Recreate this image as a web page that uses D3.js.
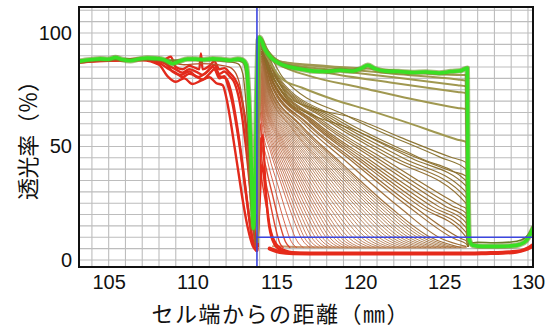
<!DOCTYPE html>
<html><head><meta charset="utf-8">
<script src="https://cdn.jsdelivr.net/npm/d3@7"></script>
<style>
body{margin:0;background:#fff}
svg{display:block}
</style>
</head><body>
<svg id="chart" width="553" height="333"></svg>
<script>
// ---- axis labels and reference marks ----
const xTicks = [105, 110, 115, 120, 125, 130];
const yTicks = [0, 50, 100];
const xTitle = "セル端からの距離（㎜）";
const yTitle = "透光率（％）";
const meniscusX = 113.84;      // position of the vertical guide (mm)
const thresholdLevel = 10;     // level of the horizontal guide (%)

// ---- transmission profiles, [position mm, transmission %] ----
// earliest profiles left of the meniscus (red band)
const leftRedProfiles = [
  [[103.23,87],[104,87.5],[105,88],[106,88],[107,88.5],[107.6,88],[108.2,86],[108.6,84],[109,82.5],[109.4,80.5],[109.8,82],[110.2,81],[110.6,79.5],[111,82],[111.3,84],[111.6,80],[111.9,81],[112.1,77],[112.35,70],[112.6,60],[112.85,48],[113.1,34],[113.35,20],[113.6,8],[113.8,4.5]],
  [[103.23,87.5],[104,88],[105,88.2],[106,88.3],[107,88.6],[107.6,88.4],[108.2,87],[108.6,85.5],[109,84],[109.4,82.5],[109.8,84],[110.2,83],[110.6,81.5],[111,84],[111.3,86],[111.6,82],[111.9,83],[112.2,81],[112.5,78],[112.8,70],[113.05,58],[113.3,42],[113.5,26],[113.7,10],[113.85,4.5]],
  [[103.23,87.5],[104,88],[105,88.4],[106,88.4],[107,88.8],[107.6,88.6],[108.2,88],[108.7,89.5],[109,85],[109.4,84],[109.8,85.5],[110.2,84.5],[110.4,84],[110.5,91],[110.6,84],[111,85.5],[111.3,87.5],[111.6,84],[111.9,84.5],[112.2,82.5],[112.5,80],[112.8,75],[113.1,64],[113.35,48],[113.55,30],[113.72,12],[113.85,5]],
  [[103.23,87.5],[105,88.2],[107,88.6],[108.3,87.5],[108.8,83],[109.3,81.5],[109.8,83],[110.3,80.5],[110.8,82.5],[111.2,85],[111.6,81],[112.0,80],[112.3,74],[112.55,64],[112.8,52],[113.05,38],[113.3,23],[113.55,10],[113.78,4.5]],
  [[103.23,87],[105,87.8],[107,88],[108.0,86],[108.5,81],[109.0,78.5],[109.5,80],[110.0,77.5],[110.5,79],[111.0,80.5],[111.4,78],[111.8,77],[112.0,72],[112.25,62],[112.5,50],[112.75,38],[113.0,26],[113.3,14],[113.6,6],[113.8,4]]
];
// intermediate profiles left of the meniscus
const leftTransitionProfiles = [
  [[103.23,87.5],[105,88],[107,88.5],[108.5,87.5],[109.5,86],[110.5,86.5],[111.5,86],[112.2,85],[112.6,82],[112.9,74],[113.15,58],[113.35,38],[113.55,18],[113.75,6]],
  [[103.23,88],[106,88.5],[108.5,88],[110.5,88],[112,87.5],[112.7,86.5],[113.0,82],[113.2,68],[113.4,45],[113.58,20],[113.75,8]],
  [[103.23,88],[106,88.5],[108.5,88],[110.5,88],[112.5,88],[113.0,87],[113.25,78],[113.42,55],[113.58,25],[113.7,12],[113.8,20]]
];
// red spike just behind the meniscus
const spikeProfiles = [
  [[113.85,4],[113.95,20],[114.1,52],[114.2,55],[114.3,40],[114.45,22],[114.7,10],[115.1,5],[115.6,3.5]],
  [[113.85,4],[114.0,25],[114.15,42],[114.35,30],[114.6,15],[115.0,7],[115.6,4],[116.4,3]]
];
// clearing profiles whose front reaches the floor inside the cell
const earlyProfiles = [
  [[113.9,6],[114.05,45],[114.10,38.3],[114.24,30.3],[114.43,22.3],[114.67,12.7],[114.86,7],[115.0,5.5]],
  [[113.9,6],[114.05,54],[114.12,45.8],[114.32,36.2],[114.59,26.5],[114.93,14.7],[115.20,7.5],[115.40,5.5]],
  [[113.9,6],[114.05,60],[114.14,50.9],[114.40,40.1],[114.75,29.2],[115.19,16.1],[115.54,8],[115.80,5.5]],
  [[113.9,6],[114.05,65],[114.16,55.1],[114.48,43.3],[114.91,31.5],[115.45,17.3],[115.88,8.2],[116.20,5.5]],
  [[113.9,6],[114.05,69],[114.18,58.4],[114.56,45.9],[115.07,33.4],[115.71,18.2],[116.22,8.5],[116.60,5.5]],
  [[113.9,6],[114.05,72],[114.20,61.0],[114.64,47.9],[115.23,34.7],[115.97,18.9],[116.56,8.7],[117.00,5.5]]
];
const midProfiles = [
  [[113.9,6],[114.05,75],[114.22,63.5],[114.74,49.8],[115.43,36.1],[116.29,19.6],[116.98,8.8],[117.50,5.5]],
  [[113.9,6],[114.05,77],[114.25,65.2],[114.84,51.1],[115.63,37.0],[116.62,20.0],[117.41,9],[118.00,5.5]],
  [[113.9,6],[114.05,79],[114.27,66.8],[114.94,52.4],[115.83,38.0],[116.94,20.5],[117.83,9.1],[118.50,5.5]],
  [[113.9,6],[114.05,81],[114.30,68.5],[115.04,53.7],[116.03,38.9],[117.27,20.9],[118.26,9.2],[119.00,5.5]],
  [[113.9,6],[114.05,82],[114.32,69.4],[115.14,54.4],[116.23,39.3],[117.59,21.2],[118.68,9.3],[119.50,5.5]],
  [[113.9,6],[114.05,83],[114.35,70.2],[115.24,55.0],[116.43,39.8],[117.92,21.4],[119.11,9.4],[120.00,5.5]],
  [[113.9,6],[114.05,84],[114.38,71.0],[115.36,55.7],[116.67,40.3],[118.31,21.6],[119.62,9.5],[120.60,5.5]],
  [[113.9,6],[114.05,85],[114.41,71.9],[115.48,56.3],[116.91,40.7],[118.70,21.9],[120.13,9.5],[121.20,5.5]],
  [[113.9,6],[114.05,86],[114.44,72.7],[115.60,57.0],[117.15,41.2],[119.09,22.1],[120.64,9.6],[121.80,5.5]],
  [[113.9,6],[114.05,87],[114.47,73.6],[115.72,57.6],[117.39,41.6],[119.48,22.3],[121.15,9.7],[122.40,5.5]],
  [[113.9,6],[114.05,88],[114.50,74.4],[115.84,58.3],[117.63,42.1],[119.87,22.6],[121.66,9.8],[123.00,5.5]],
  [[113.9,6],[114.05,88],[114.53,74.4],[115.96,58.3],[117.87,42.1],[120.26,22.6],[122.17,9.8],[123.60,5.5]],
  [[113.9,6],[114.05,89],[114.56,75.2],[116.08,58.9],[118.11,42.6],[120.65,22.8],[122.68,9.8],[124.20,5.5]],
  [[113.9,6],[114.05,89],[114.59,75.2],[116.20,58.9],[118.35,42.6],[121.04,22.8],[123.19,9.8],[124.80,5.5]],
  [[113.9,6],[114.05,90],[114.62,76.1],[116.32,59.6],[118.59,43.0],[121.43,23.0],[123.70,9.9],[125.40,5.5]],
  [[113.9,6],[114.05,90],[114.65,76.1],[116.44,59.6],[118.83,43.0],[121.82,23.0],[124.21,9.9],[126.00,5.5]]
];
const midProfilesLate = [
  [[113.9,6],[114.05,73.5],[114.21,62.2],[114.69,48.8],[115.33,35.4],[116.13,19.2],[116.77,8.7],[117.25,5.5]],
  [[113.9,6],[114.05,76],[114.24,64.3],[114.79,50.5],[115.53,36.6],[116.46,19.8],[117.20,8.9],[117.75,5.5]],
  [[113.9,6],[114.05,78],[114.26,66],[114.89,51.8],[115.73,37.5],[116.78,20.3],[117.62,9.1],[118.25,5.5]],
  [[113.9,6],[114.05,80],[114.29,67.7],[114.99,53.1],[115.93,38.4],[117.11,20.7],[118.05,9.2],[118.75,5.5]],
  [[113.9,6],[114.05,81.5],[114.31,68.9],[115.09,54.0],[116.13,39.1],[117.43,21.1],[118.47,9.3],[119.25,5.5]],
  [[113.9,6],[114.05,82.5],[114.34,69.8],[115.19,54.7],[116.33,39.6],[117.76,21.3],[118.90,9.4],[119.75,5.5]],
  [[113.9,6],[114.05,83.5],[114.36,70.6],[115.30,55.3],[116.55,40.0],[118.11,21.5],[119.36,9.5],[120.30,5.5]],
  [[113.9,6],[114.05,84.5],[114.39,71.5],[115.42,56.0],[116.79,40.5],[118.50,21.7],[119.87,9.5],[120.90,5.5]],
  [[113.9,6],[114.05,85.5],[114.42,72.3],[115.54,56.6],[117.03,41.0],[118.89,22.0],[120.38,9.6],[121.50,5.5]],
  [[113.9,6],[114.05,86.5],[114.45,73.1],[115.66,57.3],[117.27,41.4],[119.28,22.2],[120.89,9.7],[122.10,5.5]],
  [[113.9,6],[114.05,87.5],[114.48,74.0],[115.78,57.9],[117.51,41.9],[119.67,22.4],[121.40,9.8],[122.70,5.5]],
  [[113.9,6],[114.05,88],[114.51,74.4],[115.90,58.3],[117.75,42.1],[120.06,22.6],[121.91,9.8],[123.30,5.5]],
  [[113.9,6],[114.05,88.5],[114.54,74.8],[116.02,58.6],[117.99,42.3],[120.45,22.7],[122.42,9.8],[123.90,5.5]],
  [[113.9,6],[114.05,89],[114.57,75.2],[116.14,58.9],[118.23,42.6],[120.84,22.8],[122.93,9.8],[124.50,5.5]],
  [[113.9,6],[114.05,89.5],[114.60,75.7],[116.26,59.2],[118.47,42.8],[121.23,22.9],[123.44,9.9],[125.10,5.5]],
  [[113.9,6],[114.05,90],[114.63,76.1],[116.38,59.6],[118.71,43.0],[121.62,23.0],[123.95,9.9],[125.70,5.5]]
];
// profiles cut off by the cell bottom
const truncatedProfiles = [
  [[113.9,6],[114.05,91],[114.69,76.9],[116.60,60.2],[119.15,43.5],[122.34,23.2],[124.89,9.2],[126.30,6]],
  [[113.9,6],[114.05,91],[114.73,76.9],[116.78,60.2],[119.51,43.5],[122.92,23.2],[125.65,9.2],[126.30,7.2],[126.42,6]],
  [[113.9,6],[114.05,91],[114.76,76.9],[116.88,60.2],[119.71,43.5],[123.25,23.2],[126.08,9.2],[126.30,8.5],[126.42,6]],
  [[113.9,6],[114.05,92],[114.78,77.8],[116.98,60.9],[119.91,43.9],[123.57,23.5],[126.30,10.2],[126.42,6]],
  [[113.9,6],[114.05,92],[114.81,77.8],[117.08,60.9],[120.11,43.9],[123.90,23.5],[126.30,12.3],[126.42,6]],
  [[113.9,6],[114.05,92],[114.84,77.8],[117.20,60.9],[120.35,43.9],[124.29,23.5],[126.30,14.4],[126.42,6]],
  [[113.9,6],[114.05,92],[114.87,77.8],[117.32,60.9],[120.59,43.9],[124.68,23.5],[126.30,16.5],[126.42,6]],
  [[113.9,6],[114.05,93],[114.90,78.6],[117.44,61.5],[120.83,44.4],[125.07,23.7],[126.30,18.5],[126.42,6]],
  [[113.9,6],[114.05,93],[114.93,78.6],[117.58,61.5],[121.11,44.4],[125.52,23.7],[126.30,20.6],[126.42,6]],
  [[113.9,6],[114.05,93],[114.97,78.6],[117.74,61.5],[121.43,44.4],[126.04,23.7],[126.30,22.7],[126.42,6]],
  [[113.9,6],[114.05,94],[115.01,79.4],[117.90,62.2],[121.75,44.9],[126.30,25],[126.42,6]],
  [[113.9,6],[114.05,94],[115.06,79.4],[118.08,62.2],[122.11,44.9],[126.30,27.5],[126.42,6]],
  [[113.9,6],[114.05,94],[115.11,79.4],[118.30,62.2],[122.55,44.9],[126.30,30],[126.42,6]],
  [[113.9,6],[114.05,94],[115.17,79.4],[118.54,62.2],[123.03,44.9],[126.30,32.7],[126.42,6]],
  [[113.9,6],[114.05,94],[115.24,79.4],[118.80,62.2],[123.55,44.9],[126.30,35],[126.42,6]],
  [[113.9,6],[114.05,94],[114.5,84],[115.0,78],[115.7,70],[117.1,64],[119.4,58],[122.4,48],[125.5,39],[126.3,37],[126.42,6]],
  [[113.9,6],[114.05,95],[115.39,80.3],[119.40,62.8],[124.75,45.3],[126.30,40],[126.42,6]],
  [[113.9,6],[114.05,95],[114.5,85],[115.0,80],[115.7,72],[117.1,67],[119.4,63],[122.4,54],[125.5,45],[126.3,43],[126.42,6]]
];
// last slowly clearing profiles
const lateProfiles = [
  [[113.9,8],[114.05,95],[114.4,90],[115.3,80],[116.5,76],[118.5,70.5],[120.5,66],[122.4,61.5],[124,57.5],[125.8,53],[126.3,52],[126.42,7]],
  [[113.9,8],[114.05,96],[114.5,90],[115.2,86],[117,81],[120,76],[123,71],[125.8,67],[126.3,66.5],[126.42,7]],
  [[113.9,8],[114.05,96],[114.5,91],[115.2,87],[118,82.5],[122,78],[125.8,74],[126.3,73.5],[126.42,7]],
  [[113.9,8],[114.05,97],[114.5,91],[115.2,87],[118,84],[122,80.5],[125.8,77],[126.3,76.5],[126.42,7]],
  [[113.9,8],[114.05,97],[114.5,92],[115.2,87.5],[118,85],[122,82],[125.8,79.5],[126.3,79],[126.42,7]],
  [[113.9,8],[114.05,98],[114.5,92],[115.2,87.5],[118,85.5],[122,83.5],[125.8,81.5],[126.3,81.5],[126.42,7]]
];
// final profile
const finalProfile = [[103.23,87.5],[103.6,88],[104,88.3],[104.5,88.6],[105,88.4],[105.4,89.2],[105.8,88.3],[106.3,87.8],[106.8,88.5],[107.3,89],[107.8,88.8],[108.3,88.2],[108.8,86.5],[109.2,87.5],[109.7,88.5],[110.2,88.5],[110.7,88.2],[111.2,88.6],[111.7,88.4],[112.2,88],[112.7,88.5],[113.0,88],[113.2,86],[113.35,72],[113.5,42],[113.62,14],[113.72,30],[113.82,70],[113.92,97],[114.0,98],[114.3,93],[114.7,89],[115.2,86.5],[115.8,85],[116.5,84],[117.2,83.2],[118,83],[118.8,83.6],[119.5,83.2],[120.1,84.5],[120.45,85.8],[120.9,84.2],[121.5,83.2],[122.3,83],[123.1,82.6],[123.9,82.8],[124.7,82.4],[125.4,83],[126.0,83.4],[126.38,84.5],[126.42,40],[126.5,9],[126.7,6.5],[127.3,6],[128.2,6],[129,6.2],[129.5,6.8],[129.9,8.5],[130.15,11.5],[130.3,14]];
// bottom levels
const redFloor = [[114.6,5],[115.2,3.5],[116,3],[118,2.8],[120,2.8],[122,2.8],[124,2.8],[126,2.8],[127.5,3],[128.5,3.2],[129.3,3.6],[129.8,4.5],[130.1,5.5],[130.3,6.5]];
const oliveFloor = [[126.42,7],[127,7.8],[128,7.6],[129,7.9],[129.6,8.8],[130,11],[130.3,15]];
const brownFloor = [[114.8,6],[117,5.6],[120,5.5],[123,5.5],[126.3,5.6]];

// ---- layout ----
const svg = d3.select("#chart");
const plot = {left: 79, top: 7, right: 533, bottom: 267};
const x = d3.scaleLinear().domain([103.23, 130.3]).range([plot.left, plot.right]);
const y = d3.scaleLinear().domain([-3.1, 111.45]).range([plot.bottom, plot.top]);
const line = d3.line().x(d => x(d[0])).y(d => y(d[1])).curve(d3.curveMonotoneX);

svg.append("defs").append("clipPath").attr("id", "plotClip")
  .append("rect").attr("x", plot.left).attr("y", plot.top)
  .attr("width", plot.right - plot.left).attr("height", plot.bottom - plot.top);

// grid
const grid = svg.append("g").attr("stroke", "#bdbdbd").attr("stroke-width", 1.1);
grid.selectAll("line.v").data(d3.range(104, 131, 1)).join("line")
  .attr("x1", d => x(d)).attr("x2", d => x(d)).attr("y1", plot.top).attr("y2", plot.bottom);
grid.selectAll("line.h").data(d3.range(0, 111, 5)).join("line")
  .attr("y1", d => y(d)).attr("y2", d => y(d)).attr("x1", plot.left).attr("x2", plot.right);

const g = svg.append("g").attr("clip-path", "url(#plotClip)").attr("fill", "none")
  .attr("stroke-linejoin", "round").attr("stroke-linecap", "round");

// order the clearing profiles by the clear area under them (earliest first)
const area = p => d3.sum(d3.pairs(p), ([a, b]) => (b[0] - a[0]) * (a[1] + b[1]) / 2);
const fan = earlyProfiles.concat(midProfiles, midProfilesLate, truncatedProfiles)
  .sort((a, b) => area(a) - area(b));
const fanColor = d3.scaleLinear()
  .domain([0, 0.05, 0.12, 0.45, 0.75, 1])
  .range(["#e2321e", "#d4462a", "#c26a44", "#b07448", "#946428", "#86702a"]);

g.append("path").datum(brownFloor).attr("d", line)
  .attr("stroke", "#b97a48").attr("stroke-width", 2).attr("opacity", 0.8);

g.selectAll("path.fan").data(fan).join("path").attr("class", "fan")
  .attr("d", line)
  .attr("stroke", (d, i) => fanColor(i / (fan.length - 1)))
  .attr("stroke-width", (d, i) => i < 3 ? 1.4 : (i > fan.length - 20 ? 1.15 : 0.9))
  .attr("opacity", 0.95);

g.selectAll("path.spike").data(spikeProfiles).join("path").attr("class", "spike")
  .attr("d", line).attr("stroke", "#e52a1a").attr("stroke-width", 2.2);

g.append("path").datum(redFloor).attr("d", line)
  .attr("stroke", "#e52a1a").attr("stroke-width", 4);

g.selectAll("path.leftRed").data(leftRedProfiles).join("path").attr("class", "leftRed")
  .attr("d", line).attr("stroke", "#e22a1c").attr("stroke-width", 2.4);

const transColors = ["#b9512a", "#8c6a28", "#6f8a2a"];
g.selectAll("path.leftTrans").data(leftTransitionProfiles).join("path").attr("class", "leftTrans")
  .attr("d", line).attr("stroke", (d, i) => transColors[i]).attr("stroke-width", 1.3);

g.selectAll("path.late").data(lateProfiles).join("path").attr("class", "late")
  .attr("d", line).attr("stroke", "#a09850").attr("stroke-width", 2);

g.append("path").datum(oliveFloor).attr("d", line)
  .attr("stroke", "#6c7a2a").attr("stroke-width", 1.6);

g.append("path").datum(finalProfile).attr("d", line)
  .attr("stroke", "#6f8f28").attr("stroke-width", 5.5).attr("opacity", 0.6);
g.append("path").datum(finalProfile).attr("d", line)
  .attr("stroke", "#38e024").attr("stroke-width", 3.6);

// guides
g.append("line")
  .attr("x1", x(meniscusX)).attr("x2", x(meniscusX))
  .attr("y1", plot.top).attr("y2", plot.bottom)
  .attr("stroke", "#3c46e0").attr("stroke-width", 1.6);
g.append("line")
  .attr("x1", x(meniscusX)).attr("x2", plot.right)
  .attr("y1", y(thresholdLevel)).attr("y2", y(thresholdLevel))
  .attr("stroke", "#3c46e0").attr("stroke-width", 1.6);

// frame
svg.append("rect").attr("x", plot.left).attr("y", plot.top)
  .attr("width", plot.right - plot.left).attr("height", plot.bottom - plot.top)
  .attr("fill", "none").attr("stroke", "#111").attr("stroke-width", 2);

// axes
const numFont = "'Liberation Sans', Arial, sans-serif";
const xAxis = svg.append("g").attr("transform", `translate(0,${plot.bottom})`)
  .call(d3.axisBottom(x).tickValues(xTicks).tickSize(0).tickPadding(8));
const yAxis = svg.append("g").attr("transform", `translate(${plot.left},0)`)
  .call(d3.axisLeft(y).tickValues(yTicks).tickSize(0).tickPadding(7));
[xAxis, yAxis].forEach(a => {
  a.select(".domain").remove();
  a.selectAll("text").attr("font-family", numFont).attr("font-size", 20).attr("fill", "#111");
});

// axis titles, one character per full-width cell
const cjkFont = "'Noto Sans CJK JP', sans-serif";
const xChars = Array.from(xTitle);
svg.append("text").attr("y", 322).attr("text-anchor", "middle")
  .attr("font-family", cjkFont).attr("font-size", 22).attr("fill", "#111")
  .selectAll("tspan").data(xChars).join("tspan")
  .attr("x", (d, i) => 162.5 + 23.5 * i).text(d => d);
const yChars = Array.from(yTitle);
svg.append("text").attr("transform", "translate(36,0) rotate(-90)").attr("text-anchor", "middle")
  .attr("font-family", cjkFont).attr("font-size", 22).attr("fill", "#111")
  .selectAll("tspan").data(yChars).join("tspan")
  .attr("x", (d, i) => -(189 - 21.6 * i)).text(d => d);
</script>
</body></html>
